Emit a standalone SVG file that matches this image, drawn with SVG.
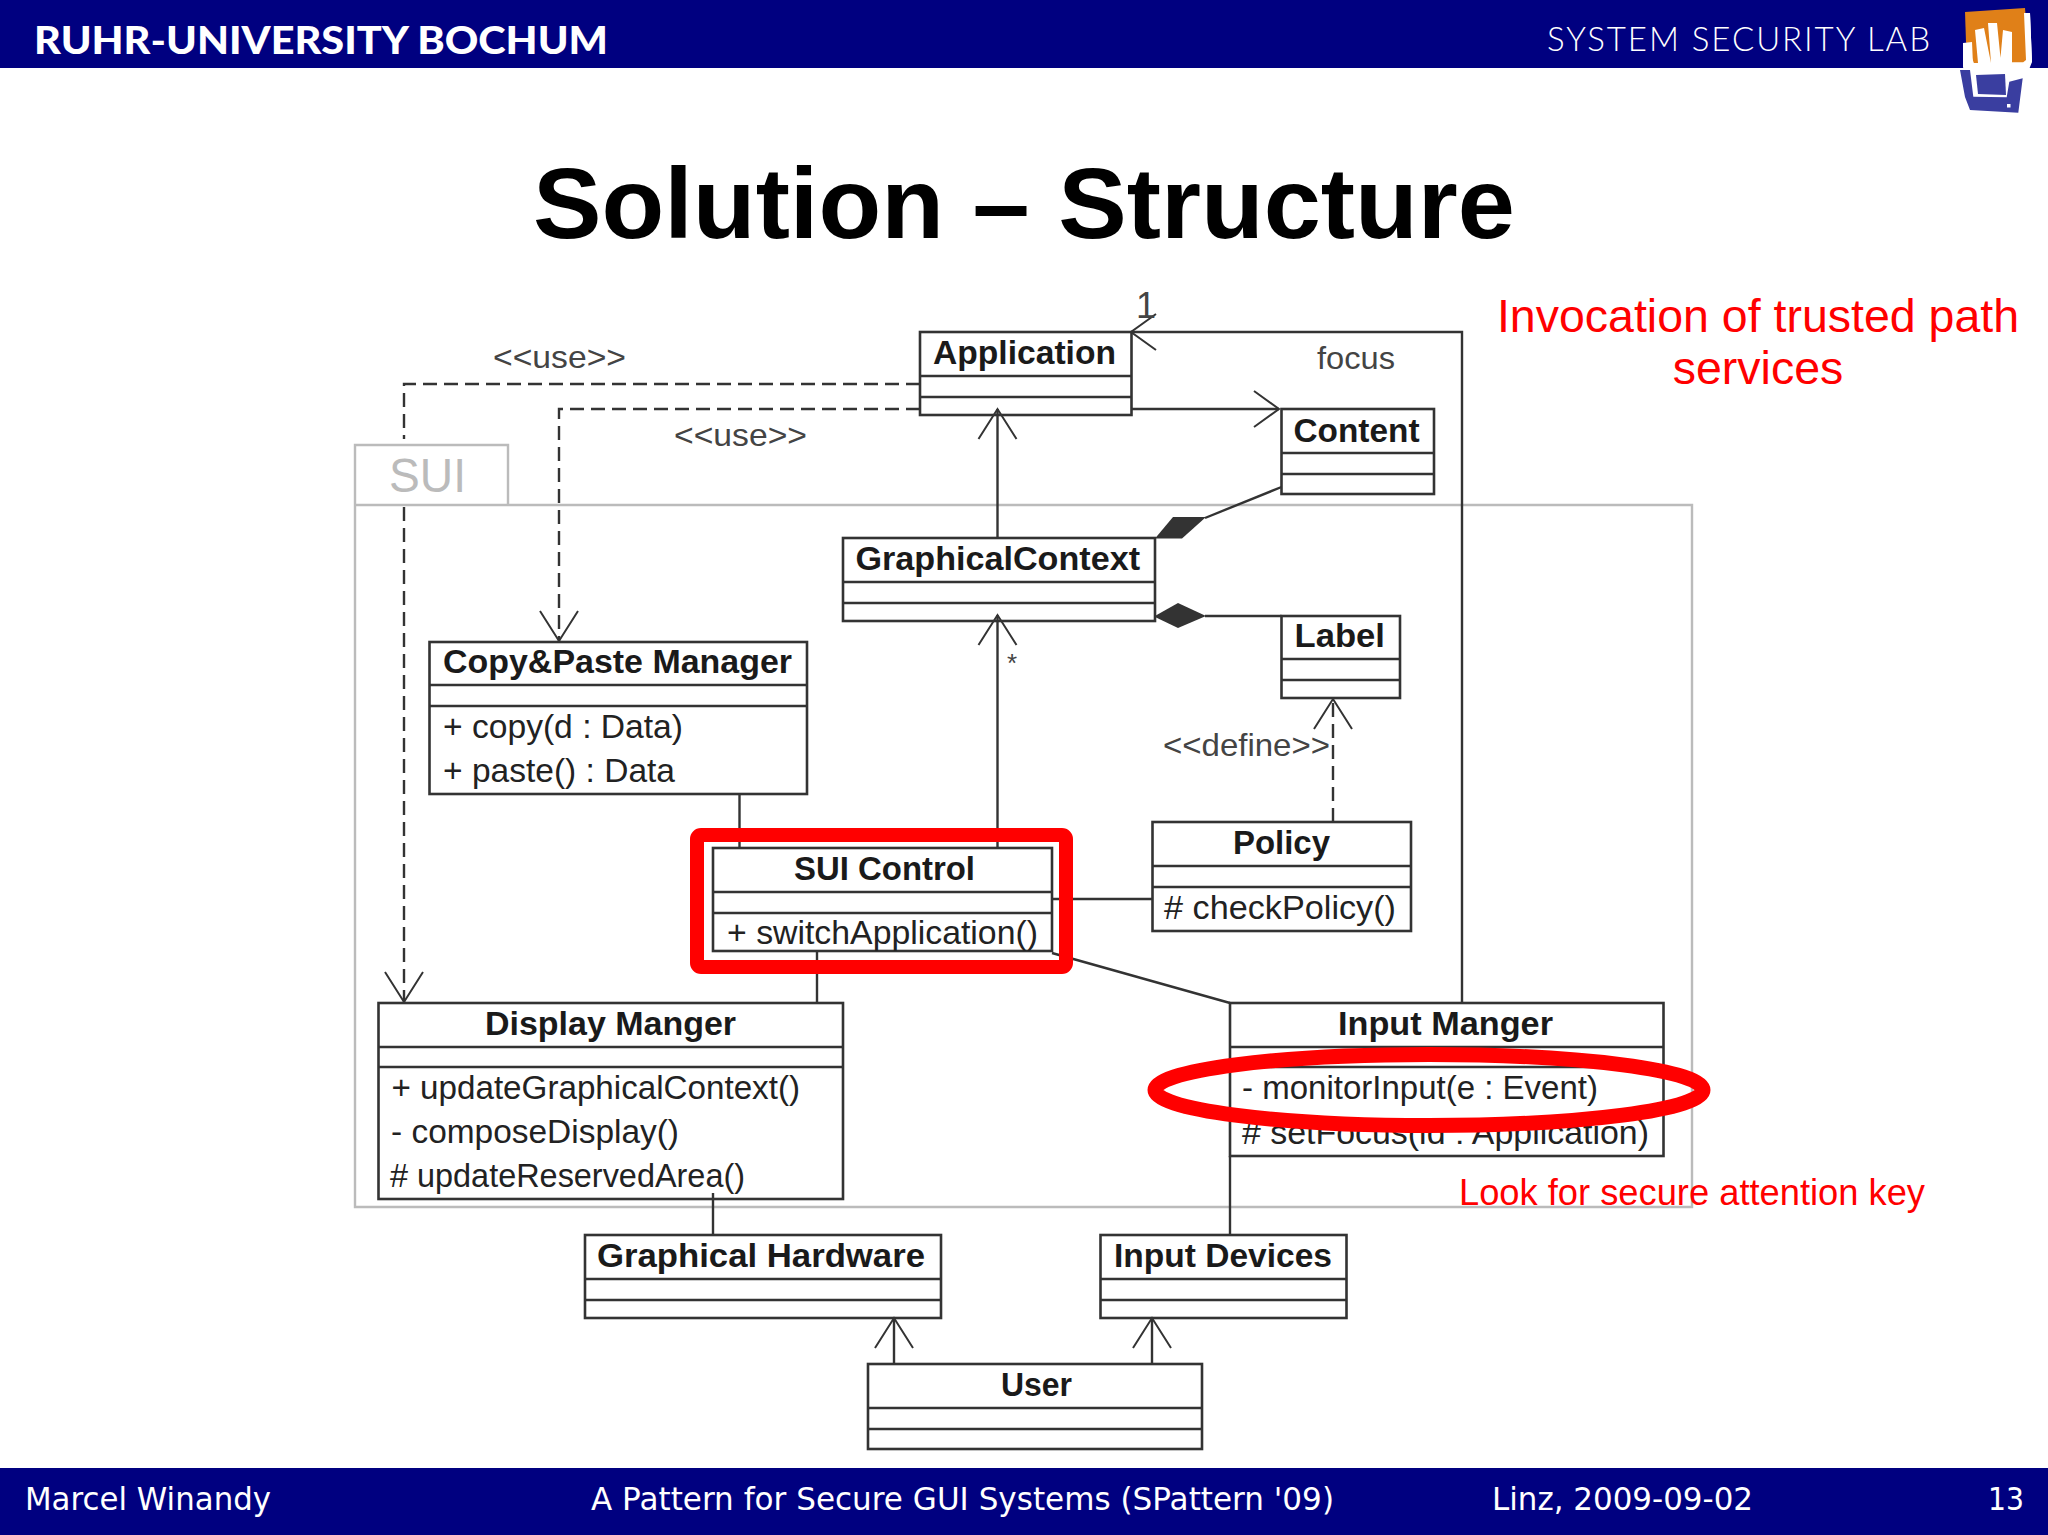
<svg xmlns="http://www.w3.org/2000/svg" width="2048" height="1535" viewBox="0 0 2048 1535">
<style>
text{font-family:"Liberation Sans",Arial,sans-serif}
.box{fill:#fff;stroke:#333;stroke-width:2.6}
.div{stroke:#333;stroke-width:2.4;fill:none}
.t{font-size:34px;font-weight:bold;fill:#1a1a1a}
.m{font-size:33px;fill:#222}
.lbl{font-size:32px;fill:#444}
.foot{font-family:"DejaVu Sans",sans-serif;font-size:31.5px;fill:#fff}
.red{font-size:46.500px;fill:#f00}
.con{fill:none;stroke:#333;stroke-width:2.4}
.dash{stroke-dasharray:14 7}
.arm{fill:none;stroke:#333;stroke-width:2}
.dia{fill:#333;stroke:none}
.hl{fill:none;stroke:#f00}
</style>
<defs>
<marker id="open" viewBox="-32 -21 34 42" refX="0" refY="0" markerWidth="34" markerHeight="42" markerUnits="userSpaceOnUse" orient="auto"><path class="arm" d="M-30,-19 L0,0 L-30,19"/></marker>
<marker id="openH" viewBox="-32 -21 34 42" refX="0" refY="0" markerWidth="34" markerHeight="42" markerUnits="userSpaceOnUse" orient="auto"><path class="arm" d="M-25,-18 L0,0 L-25,18"/></marker>
</defs>
<rect width="2048" height="1535" fill="#fff"/>
<g id="header">
<rect x="0" y="0" width="2048" height="68" fill="#000080"/>
<text x="34" y="54" font-size="38" font-weight="900" fill="#fff" style="font-family:Lato,'Liberation Sans',sans-serif" textLength="574" lengthAdjust="spacingAndGlyphs">RUHR-UNIVERSITY BOCHUM</text>
<text x="1547" y="51" font-size="33" fill="#fff" style="font-family:Lato,'Liberation Sans',sans-serif;font-weight:300" textLength="383" lengthAdjust="spacing">SYSTEM SECURITY LAB</text>
</g>
<g id="logo">
<path fill="#fff" d="M2024,13 2030,13 2032,62 2028,72 1964,72 1963,44 1972,42 1975,30 1984,23 2024,23Z"/>
<path fill="#e08018" d="M1965,12 2025,8 2029,60 2016,68 1975,66 1966,42Z"/>
<path fill="#fff" d="M1975,30 1984,28 1991,63 1978,63Z M1988,23 1997,23 2001,63 1991,63Z M2003,30 2012,32 2012,63 2000,63Z M1963,43 1972,42 1973,65 1963,68Z M2024,13 2030,13 2032,62 2016,68 2026,60Z M1966,63 2030,62 2027,70 1966,70Z"/>
<path fill="#3a3ea0" d="M1960,70 1970,70 1973.300,96.700 2006.700,97.300 2009.300,81.700 2022.700,78.300 2018.300,112.700 1970,110 1965,97Z"/>
<path fill="#3a3ea0" d="M1976,75 2005,74 2006,95 1978,94Z"/>
<rect x="2007" y="104" width="3.500" height="3.500" fill="#fff"/>
</g>
<g id="footer">
<rect x="0" y="1468" width="2048" height="67" fill="#000080"/>
<text class="foot" x="25" y="1510" textLength="246" lengthAdjust="spacingAndGlyphs">Marcel Winandy</text>
<text class="foot" x="591" y="1510" textLength="743" lengthAdjust="spacingAndGlyphs">A Pattern for Secure GUI Systems (SPattern '09)</text>
<text class="foot" x="1492" y="1510" textLength="261" lengthAdjust="spacingAndGlyphs">Linz, 2009-09-02</text>
<text class="foot" x="1988" y="1510" textLength="36" lengthAdjust="spacingAndGlyphs">13</text>
</g>
<text id="title" x="533" y="238" font-size="100" font-weight="bold" fill="#000" textLength="982" lengthAdjust="spacingAndGlyphs">Solution – Structure</text>
<g id="SUI">
<path fill="none" stroke="#bbb" stroke-width="2.400" d="M355,505 V445 H508 V505 M355,505 H1692 V1207 H355Z"/>
<text x="389" y="492" font-size="48" fill="#bbb" textLength="77" lengthAdjust="spacingAndGlyphs">SUI</text>
</g>
<g id="Application">
<rect class="box" x="920" y="332" width="211.500" height="83"/>
<path class="div" d="M920,376 H1131.500 M920,397 H1131.500"/>
<text class="t" x="933" y="364" textLength="183" lengthAdjust="spacingAndGlyphs">Application</text>
</g>
<g id="Content">
<rect class="box" x="1281.500" y="409" width="152.500" height="85"/>
<path class="div" d="M1281.500,453 H1434 M1281.500,474 H1434"/>
<text class="t" x="1293.500" y="442" textLength="126" lengthAdjust="spacingAndGlyphs">Content</text>
</g>
<g id="GraphicalContext">
<rect class="box" x="843" y="538" width="312" height="83"/>
<path class="div" d="M843,582 H1155 M843,603 H1155"/>
<text class="t" x="855.500" y="570" textLength="284.500" lengthAdjust="spacingAndGlyphs">GraphicalContext</text>
</g>
<g id="Label">
<rect class="box" x="1281.500" y="616" width="118.500" height="82"/>
<path class="div" d="M1281.500,659 H1400 M1281.500,680 H1400"/>
<text class="t" x="1294.500" y="647" textLength="90.500" lengthAdjust="spacingAndGlyphs">Label</text>
</g>
<g id="CopyPasteManager">
<rect class="box" x="429.500" y="642" width="377.500" height="152"/>
<path class="div" d="M429.500,685 H807 M429.500,706 H807"/>
<text class="t" x="443" y="673" textLength="349" lengthAdjust="spacingAndGlyphs">Copy&amp;Paste Manager</text>
<text class="m" x="443" y="738" textLength="240" lengthAdjust="spacingAndGlyphs">+ copy(d : Data)</text>
<text class="m" x="443" y="782" textLength="232" lengthAdjust="spacingAndGlyphs">+ paste() : Data</text>
</g>
<g id="SUIControl">
<rect class="box" x="713" y="848" width="339" height="103"/>
<path class="div" d="M713,892 H1052 M713,913 H1052"/>
<text class="t" x="794" y="880" textLength="181" lengthAdjust="spacingAndGlyphs">SUI Control</text>
<text class="m" x="727" y="944" textLength="311" lengthAdjust="spacingAndGlyphs">+ switchApplication()</text>
</g>
<g id="Policy">
<rect class="box" x="1152.500" y="822" width="258.500" height="109"/>
<path class="div" d="M1152.500,866 H1411 M1152.500,887 H1411"/>
<text class="t" x="1233" y="854" textLength="97" lengthAdjust="spacingAndGlyphs">Policy</text>
<text class="m" x="1164" y="919" textLength="232" lengthAdjust="spacingAndGlyphs"># checkPolicy()</text>
</g>
<g id="DisplayManger">
<rect class="box" x="378.500" y="1003" width="464.500" height="196"/>
<path class="div" d="M378.500,1047 H843 M378.500,1067 H843"/>
<text class="t" x="485" y="1035" textLength="251" lengthAdjust="spacingAndGlyphs">Display Manger</text>
<text class="m" x="391.500" y="1099" textLength="408.500" lengthAdjust="spacingAndGlyphs">+ updateGraphicalContext()</text>
<text class="m" x="391" y="1143" textLength="288" lengthAdjust="spacingAndGlyphs">- composeDisplay()</text>
<text class="m" x="390" y="1187" textLength="355" lengthAdjust="spacingAndGlyphs"># updateReservedArea()</text>
</g>
<g id="InputManger">
<rect class="box" x="1230" y="1003" width="433.500" height="153"/>
<path class="div" d="M1230,1047 H1663.500 M1230,1067 H1663.500"/>
<text class="t" x="1338" y="1035" textLength="215" lengthAdjust="spacingAndGlyphs">Input Manger</text>
<text class="m" x="1242" y="1099" textLength="356" lengthAdjust="spacingAndGlyphs">- monitorInput(e : Event)</text>
<text class="m" x="1242" y="1144" textLength="407" lengthAdjust="spacingAndGlyphs"># setFocus(id : Application)</text>
</g>
<g id="GraphicalHardware">
<rect class="box" x="585" y="1235" width="356" height="83"/>
<path class="div" d="M585,1279 H941 M585,1300 H941"/>
<text class="t" x="597" y="1267" textLength="328" lengthAdjust="spacingAndGlyphs">Graphical Hardware</text>
</g>
<g id="InputDevices">
<rect class="box" x="1100.500" y="1235" width="246" height="83"/>
<path class="div" d="M1100.500,1279 H1346.500 M1100.500,1300 H1346.500"/>
<text class="t" x="1114" y="1267" textLength="218" lengthAdjust="spacingAndGlyphs">Input Devices</text>
</g>
<g id="User">
<rect class="box" x="868" y="1364" width="334" height="85"/>
<path class="div" d="M868,1408 H1202 M868,1429 H1202"/>
<text class="t" x="1001" y="1396" textLength="71" lengthAdjust="spacingAndGlyphs">User</text>
</g>
<g id="connectors">
<path class="con dash" d="M920,384 H404 V439"/>
<path class="con dash" marker-end="url(#open)" d="M404,507 V1002"/>
<path class="con dash" marker-end="url(#open)" d="M920,409 H559 V641"/>
<path class="con" marker-end="url(#open)" d="M997.500,538 V409"/>
<path class="con" marker-end="url(#open)" d="M997.500,848 V615"/>
<path class="con" d="M739.500,794 V848"/>
<path class="con" d="M817,951 V1003"/>
<path class="con" d="M1052,899 H1152"/>
<path class="con" stroke-width="2" d="M1052,953 L1230,1003"/>
<path class="con" marker-end="url(#openH)" d="M1131,409 H1279"/>
<path class="con" marker-end="url(#openH)" d="M1462,1003 V332 H1131"/>
<path class="con" d="M1281.500,487 L1205,518"/>
<path class="dia" d="M1155,538.500 1173,517 1206,517 1182,538.500Z"/>
<path class="con" d="M1281.500,616 H1205"/>
<path class="dia" d="M1154,616.500 1178,603 1206,616 1178,628Z"/>
<path class="con dash" marker-end="url(#open)" d="M1333,822 V699"/>
<path class="con" d="M713,1193 V1235"/>
<path class="con" d="M1230,1156 V1235"/>
<path class="con" marker-end="url(#open)" d="M894,1364 V1318"/>
<path class="con" marker-end="url(#open)" d="M1152,1364 V1318"/>
<text class="lbl" x="493" y="368" textLength="133" lengthAdjust="spacingAndGlyphs">&lt;&lt;use&gt;&gt;</text>
<text class="lbl" x="674" y="446" textLength="133" lengthAdjust="spacingAndGlyphs">&lt;&lt;use&gt;&gt;</text>
<text class="lbl" x="1163" y="756" textLength="167" lengthAdjust="spacingAndGlyphs">&lt;&lt;define&gt;&gt;</text>
<text class="lbl" x="1317" y="369" textLength="78" lengthAdjust="spacingAndGlyphs">focus</text>
<text class="lbl" x="1136" y="318" style="font-size:36px">1</text>
<text class="lbl" x="1007" y="672" style="font-size:26px">*</text>
</g>
<g id="highlights">
<rect class="hl" x="697" y="835" width="369" height="132" rx="4" stroke-width="14"/>
<ellipse class="hl" cx="1429" cy="1090" rx="274" ry="35.500" stroke-width="15"/>
</g>
<g id="notes">
<text class="red" x="1758" y="332" text-anchor="middle">Invocation of trusted path</text>
<text class="red" x="1758" y="384" text-anchor="middle">services</text>
<text class="red" x="1459" y="1205" style="font-size:36px" textLength="466" lengthAdjust="spacingAndGlyphs">Look for secure attention key</text>
</g>
</svg>
